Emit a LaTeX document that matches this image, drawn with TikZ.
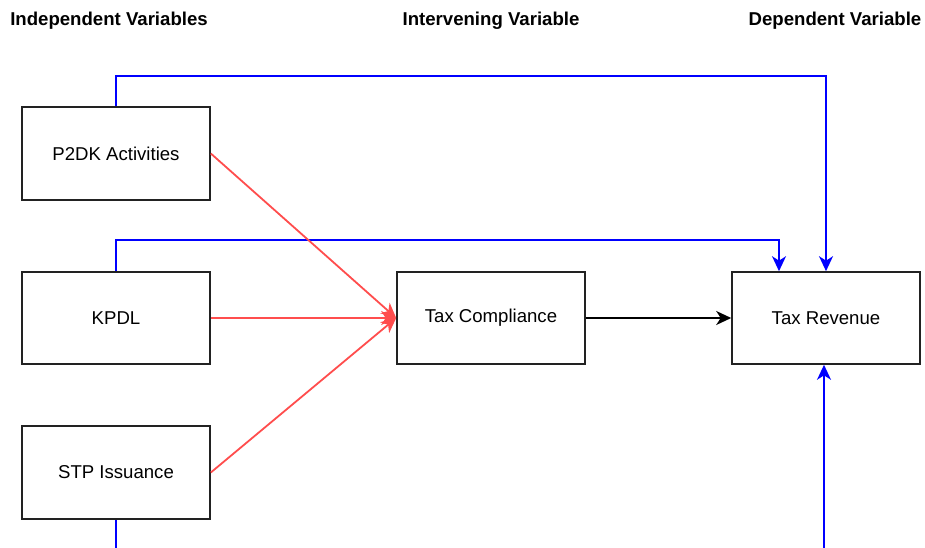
\documentclass[tikz,border=0pt]{standalone}
\usepackage{fontspec}
\setmainfont{Liberation Sans}
\usetikzlibrary{arrows.meta}
\definecolor{redline}{HTML}{FF4D4D}
\definecolor{blueline}{HTML}{0000FF}
\definecolor{boxline}{HTML}{222222}
\tikzset{arrowtip/.style={-{Stealth[length=15pt,width=14pt,inset=4.5pt]}}}
\begin{document}
\begin{tikzpicture}[x=1pt,y=-1pt,
  box/.style={draw=boxline,line width=1.6pt,minimum width=188pt,minimum height=93pt,inner sep=0pt,font=\fontsize{18.6}{22}\selectfont},
  midbox/.style={box,minimum height=92pt},
  head/.style={font=\bfseries\fontsize{18.6}{22}\selectfont,inner sep=0pt},
  blueconn/.style={draw=blueline,line width=1.8pt},
  redconn/.style={draw=redline,line width=1.8pt,arrowtip},
  blackconn/.style={draw=black,line width=1.8pt,arrowtip}]
\useasboundingbox (0,0) rectangle (925,548);
\node[head] (h1) at (109,21) {Independent Variables};
\node[head] (h2) at (491,21) {Intervening Variable};
\node[head] (h3) at (835,21) {Dependent Variable};
\node[box] (p2dk) at (116,153.5) {P2DK Activities};
\node[midbox] (kpdl) at (116,318) {KPDL};
\node[box] (stp) at (116,472.5) {STP Issuance};
\node[midbox] (tc) at (491,318) {Tax Compliance};
\node[midbox] (tr) at (826,318) {Tax Revenue};
\coordinate (bl) at (116,548);
\coordinate (br) at (824,548);
% blue connectors
\draw[blueconn,arrowtip] (p2dk.north) -- (116,76) -| (826,271.2);
\draw[blueconn,arrowtip] (kpdl.north) -- (116,240) -| (779,271.2);
\draw[blueconn] (stp.south) -- (bl);
\draw[blueconn,arrowtip] (br) -- (tr.south -| br);
% red connectors
\draw[redconn] (p2dk.east) -- (tc.west);
\draw[redconn] (kpdl.east) -- (tc.west);
\draw[redconn] (stp.east) -- (tc.west);
% black connector
\draw[blackconn] (tc.east) -- (tr.west);
\end{tikzpicture}
\end{document}
